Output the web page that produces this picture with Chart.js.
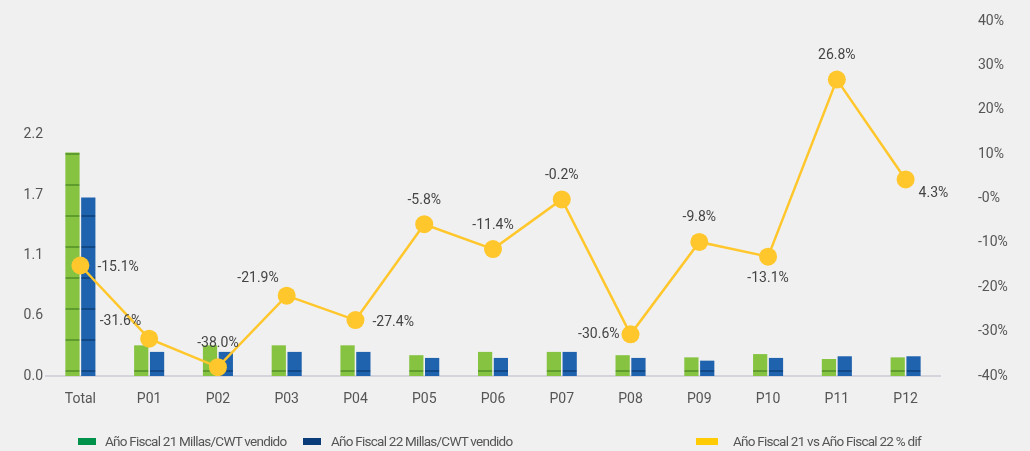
<!doctype html>
<html lang="es">
<head>
  <meta charset="utf-8">
  <title>Millas/CWT vendido</title>
  <script src="https://cdn.jsdelivr.net/npm/chart.js"></script>
  <style>
    html, body { margin: 0; padding: 0; background: #f0f0f0; }
    #wrap { position: relative; width: 1030px; height: 451px; }
    #legend { position: absolute; left: 0; top: 431px; width: 1030px; height: 20px;
      font: 13.5px Roboto, sans-serif; letter-spacing: -0.75px; color: #555; }
    #legend span.item { position: absolute; top: 0; white-space: nowrap; line-height: 20px; }
    #legend i { display: inline-block; height: 7px; vertical-align: middle; position: relative; top: -1px; }
  </style>
</head>
<body>
<div id="wrap">
  <canvas id="chart" width="1030" height="451"></canvas>
  <div id="legend"></div>
</div>
<script>
  const categories = ['Total', 'P01', 'P02', 'P03', 'P04', 'P05', 'P06', 'P07', 'P08', 'P09', 'P10', 'P11', 'P12'];
  const fy21 = [2.04, 0.28, 0.28, 0.28, 0.28, 0.19, 0.22, 0.22, 0.19, 0.17, 0.20, 0.155, 0.17];
  const fy22 = [1.63, 0.22, 0.22, 0.22, 0.22, 0.165, 0.165, 0.22, 0.165, 0.14, 0.165, 0.18, 0.18];
  const pctDiff = [-15.1, -31.6, -38.0, -21.9, -27.4, -5.8, -11.4, -0.2, -30.6, -9.8, -13.1, 26.8, 4.3];
  const leftTicks = [0, 0.55, 1.1, 1.65, 2.2];
  const leftTickLabels = ['0.0', '0.6', '1.1', '1.7', '2.2'];
  const rightTicks = [-40, -30, -20, -10, 0, 10, 20, 30, 40];
  const rightTickLabels = ['-40%', '-30%', '-20%', '-10%', '-0%', '10%', '20%', '30%', '40%'];
  const seriesNames = ['Año Fiscal 21 Millas/CWT vendido', 'Año Fiscal 22 Millas/CWT vendido', 'Año Fiscal 21 vs Año Fiscal 22 % dif'];

  // where each % label sits relative to its point
  const labelPlace = ['right', 'aboveLeft', 'above', 'aboveLeft', 'right', 'above', 'above', 'above', 'left', 'above', 'below', 'above', 'belowRight'];

  const YELLOW = '#ffc72c';

  // bar fill with the faint horizontal segment lines of the original
  function barPattern(base, line) {
    const c = document.createElement('canvas');
    c.width = 8; c.height = 31;
    const g = c.getContext('2d');
    g.fillStyle = base; g.fillRect(0, 0, 8, 31);
    g.fillStyle = line; g.fillRect(0, 29, 8, 2);
    return document.getElementById('chart').getContext('2d').createPattern(c, 'repeat');
  }

  const pctLabels = {
    id: 'pctLabels',
    afterDatasetsDraw(chart) {
      const ctx = chart.ctx;
      const meta = chart.getDatasetMeta(0);
      ctx.save();
      ctx.font = '14px Roboto, sans-serif';
      ctx.fillStyle = '#444';
      ctx.textBaseline = 'middle';
      meta.data.forEach((pt, i) => {
        const txt = pctDiff[i].toFixed(1) + '%';
        let x = pt.x, y = pt.y;
        switch (labelPlace[i]) {
          case 'right': ctx.textAlign = 'left'; x += 17; y += 2; break;
          case 'left': ctx.textAlign = 'right'; x -= 11; break;
          case 'aboveLeft': ctx.textAlign = 'right'; x -= 8; y -= 17; break;
          case 'above': ctx.textAlign = 'center'; y -= 24; break;
          case 'below': ctx.textAlign = 'center'; y += 22; break;
          case 'belowRight': ctx.textAlign = 'left'; x += 13; y += 14; break;
        }
        ctx.fillText(txt, x, y);
      });
      ctx.restore();
    }
  };

  Chart.defaults.font.family = 'Roboto, sans-serif';
  Chart.defaults.font.size = 14;
  Chart.defaults.color = '#555';

  const chart = new Chart(document.getElementById('chart'), {
    data: {
      labels: categories,
      datasets: [
        {
          type: 'line', label: seriesNames[2], data: pctDiff, yAxisID: 'yR',
          borderColor: YELLOW, backgroundColor: YELLOW, borderWidth: 2.5,
          pointRadius: 9, pointHoverRadius: 9, pointBorderWidth: 0, tension: 0, order: 0
        },
        {
          type: 'bar', label: seriesNames[0], data: fy21, yAxisID: 'yL',
          backgroundColor: barPattern('#86c341', '#5f9c2e'), order: 1,
          categoryPercentage: 0.46, barPercentage: 0.9
        },
        {
          type: 'bar', label: seriesNames[1], data: fy22, yAxisID: 'yL',
          backgroundColor: barPattern('#1f62ad', '#114886'), order: 1,
          categoryPercentage: 0.46, barPercentage: 0.9
        }
      ]
    },
    options: {
      responsive: false,
      animation: false,
      layout: { padding: { top: 21, bottom: 45, left: 0, right: 0 } },
      plugins: { legend: { display: false }, tooltip: { enabled: false } },
      scales: {
        x: {
          offset: true,
          grid: { display: false, drawTicks: false },
          border: { display: true, color: '#d4d4dc', width: 2 },
          ticks: { padding: 15, color: '#555' },
          afterFit(s) { s.height = 30; }
        },
        yL: {
          position: 'left', min: 0, max: 3.24,
          grid: { display: false, drawTicks: false },
          border: { display: false },
          afterBuildTicks(s) { s.ticks = leftTicks.map(v => ({ value: v })); },
          ticks: { padding: 3, callback: (v, i) => leftTickLabels[i] },
          afterFit(s) { s.width = 46; }
        },
        yR: {
          position: 'right', min: -40, max: 40,
          // invisible tick marks push the labels away from the plot
          grid: { drawOnChartArea: false, color: 'rgba(0,0,0,0)', tickLength: 38 },
          border: { display: false },
          afterBuildTicks(s) { s.ticks = rightTicks.map(v => ({ value: v })); },
          ticks: { padding: 0, callback: (v, i) => rightTickLabels[i] },
          afterFit(s) { s.width = 90; }
        }
      }
    },
    plugins: [pctLabels]
  });

  // legend drawn as html so the spacing can follow the original
  const legendItems = [
    { name: seriesNames[0], color: '#00924a', left: 78, w: 18, gap: 9 },
    { name: seriesNames[1], color: '#0b3c7a', left: 303, w: 18, gap: 10 },
    { name: seriesNames[2], color: '#ffcb05', left: 696, w: 22, gap: 15 }
  ];
  document.getElementById('legend').innerHTML = legendItems.map(it =>
    `<span class="item" style="left:${it.left}px"><i style="background:${it.color};width:${it.w}px;margin-right:${it.gap}px"></i>${it.name}</span>`
  ).join('');
</script>
</body>
</html>
